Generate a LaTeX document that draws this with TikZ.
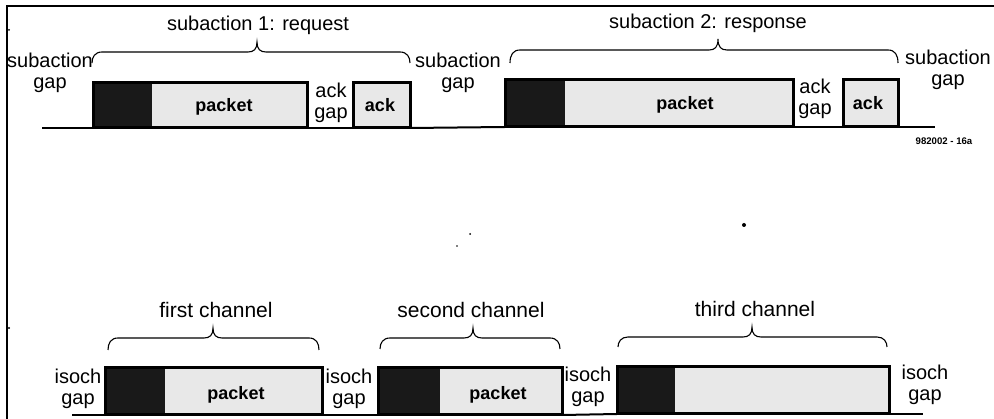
\documentclass[tikz,border=0pt]{standalone}
\usepackage{fontspec}
\setmainfont{Liberation Sans}

% brace over a span: x-left, x-right, x-tip, y-ends, y-bar, y-tip
\newcommand\curlybrace[6]{%
  \draw[brc] (#1,#4) .. controls (#1,{#5+5}) and ({#1+3},#5) .. ({#1+10},#5)
    -- ({#3-9},#5) .. controls ({#3-3},#5) and (#3,{#5-3}) .. (#3,#6)
    .. controls (#3,{#5-3}) and ({#3+3},#5) .. ({#3+9},#5)
    -- ({#2-10},#5) .. controls ({#2-3},#5) and (#2,{#5+5}) .. (#2,#4);}

\begin{document}
\begin{tikzpicture}[x=1pt,y=-1pt,
  txt/.style={font=\fontsize{20}{21}\selectfont, align=center, inner sep=0pt},
  chn/.style={font=\fontsize{21}{22}\selectfont, inner sep=0pt},
  bld/.style={font=\fontsize{18}{20}\selectfont\bfseries, inner sep=0pt},
  tag/.style={font=\fontsize{9.6}{11}\selectfont\bfseries, inner sep=0pt},
  hdr/.style={fill=black!90, draw=none, inner sep=0pt, anchor=south west},
  pkt/.style={fill=black!9, draw=none, inner sep=0pt, anchor=south west},
  frame/.style={draw=black, line width=3pt},
  base/.style={draw=black, line width=2pt},
  brc/.style={draw=black, line width=1.1pt},
  border/.style={draw=black, line width=1.6pt}]

\useasboundingbox (0,0) rectangle (994,419);

% page border, top and left
\draw[border] (994,6) -- (7,6) -- (7,419);
% scan specks
\fill (9,30) circle (1pt);
\fill (9,328) circle (1.2pt);
\fill (470,234) circle (1pt);
\fill (457,246) circle (0.8pt);
\fill (744,225) circle (2pt);

% ---------- upper timeline: request and response ----------
\node[hdr, minimum width=59pt,  minimum height=45pt] (h1) at (93,128) {};
\node[pkt, minimum width=155pt, minimum height=45pt] (p1) at (152,128) {};
\node[pkt, minimum width=57pt,  minimum height=45pt] (a1) at (353,128) {};
\node[hdr, minimum width=60pt,  minimum height=47pt] (h2) at (505,127) {};
\node[pkt, minimum width=228pt, minimum height=47pt] (p2) at (565,127) {};
\node[pkt, minimum width=55pt,  minimum height=47pt] (a2) at (843,127) {};
\coordinate (s0) at (42,128);
\coordinate (s3) at (935,127);

\draw[base] (s0) -- (h1.south west);
\draw[base] (p1.south east) -- (a1.south west);
\draw[base] (a1.south east) -- (h2.south west);
\draw[base] (p2.south east) -- (a2.south west);
\draw[base] (a2.south east) -- (s3);

\draw[frame] (h1.south west) rectangle (p1.north east);
\draw[frame] (a1.south west) rectangle (a1.north east);
\draw[frame] (h2.south west) rectangle (p2.north east);
\draw[frame] (a2.south west) rectangle (a2.north east);

\node[bld] (pl1) at (224,107) {packet};
\node[bld] (al1) at (380,105) {ack};
\node[bld] (pl2) at (685,105) {packet};
\node[bld] (al2) at (868,103) {ack};

\node[txt] (ag1) at (331,103) {ack\\gap};
\node[txt] (ag2) at (815,99) {ack\\gap};
\node[txt] (sg0) at (50,73) {subaction\\gap};
\node[txt] (sg1) at (458,73) {subaction\\gap};
\node[txt] (sg2) at (948,70) {subaction\\gap};

\curlybrace{92}{410}{257}{63}{52}{42}
\curlybrace{510}{898}{718}{63}{50}{39}
\node[txt] (sa1) at (258,25) {subaction 1: request};
\node[txt] (sa2) at (708,23) {subaction 2: response};

\node[tag] (fig) at (944,141) {982002 - 16a};

% ---------- lower timeline: isochronous channels ----------
\node[hdr, minimum width=60pt,  minimum height=47pt] (ih1) at (105,415) {};
\node[pkt, minimum width=157pt, minimum height=47pt] (ip1) at (165,415) {};
\node[hdr, minimum width=62pt,  minimum height=47pt] (ih2) at (378,415) {};
\node[pkt, minimum width=122pt, minimum height=47pt] (ip2) at (440,415) {};
\node[hdr, minimum width=58pt,  minimum height=47pt] (ih3) at (617,414) {};
\node[pkt, minimum width=214pt, minimum height=47pt] (ip3) at (675,414) {};
\coordinate (i0) at (72,415);
\coordinate (i3) at (923,414);

\draw[base] (i0) -- (ih1.south west);
\draw[base] (ip1.south east) -- (ih2.south west);
\draw[base] (ip2.south east) -- (ih3.south west);
\draw[base] (ip3.south east) -- (i3);

\draw[frame] (ih1.south west) rectangle (ip1.north east);
\draw[frame] (ih2.south west) rectangle (ip2.north east);
\draw[frame] (ih3.south west) rectangle (ip3.north east);

\node[bld] (ipl1) at (236,395) {packet};
\node[bld] (ipl2) at (498,395) {packet};

\node[txt] (ig0) at (78,389) {isoch\\gap};
\node[txt] (ig1) at (349,389) {isoch\\gap};
\node[txt] (ig2) at (588,387) {isoch\\gap};
\node[txt] (ig3) at (925,385) {isoch\\gap};

\curlybrace{108}{319}{213}{350}{338}{328}
\curlybrace{380}{560}{473}{349}{338}{328}
\curlybrace{618}{887}{752}{347}{337}{327}
\node[chn] (c1) at (216,310) {first channel};
\node[chn] (c2) at (471,310) {second channel};
\node[chn] (c3) at (755,309) {third channel};
\end{tikzpicture}
\end{document}
